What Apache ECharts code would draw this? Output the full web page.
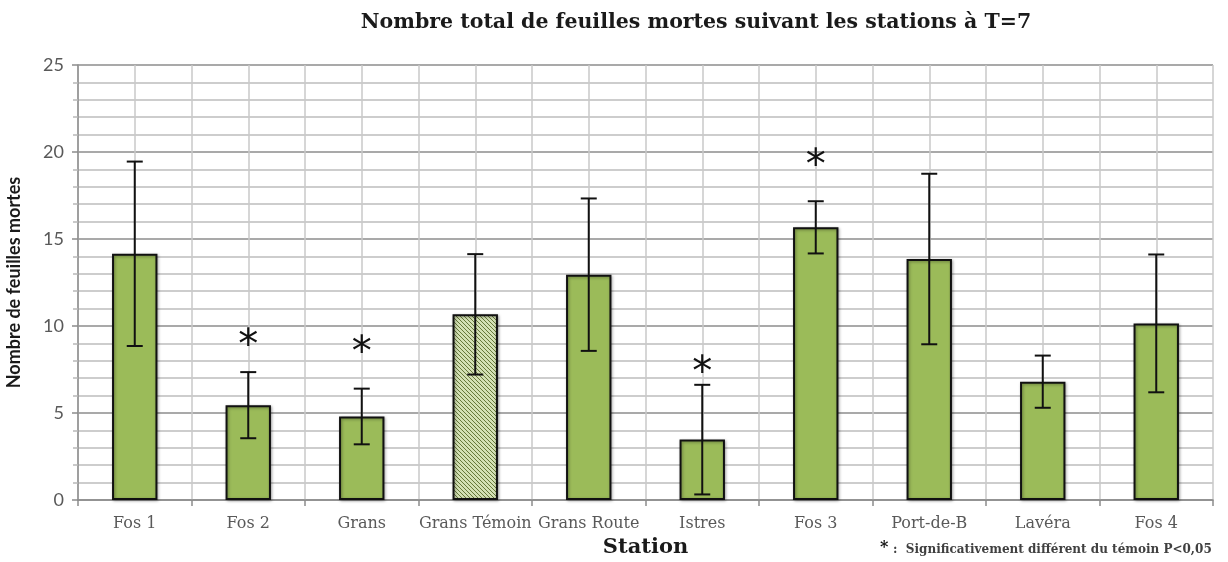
<!DOCTYPE html>
<html><head><meta charset="utf-8">
<script src="https://cdn.jsdelivr.net/npm/echarts@6/dist/echarts.min.js"></script>
<style>html,body{margin:0;padding:0;background:#fff}#c{width:1228px;height:562px}</style>
</head><body><div id="c"></div>
<script>
var categories = ['Fos 1','Fos 2','Grans','Grans Témoin','Grans Route','Istres','Fos 3','Port-de-B','Lavéra','Fos 4'];
var means = [14.15, 5.45, 4.8, 10.67, 12.95, 3.47, 15.67, 13.85, 6.8, 10.15];
var errors = [5.3, 1.9, 1.6, 3.46, 4.38, 3.15, 1.5, 4.9, 1.5, 3.96];
var starLevels = [null, 9.3, 8.9, null, null, 7.7, 19.6, null, null, null];
var yTicks = [0, 5, 10, 15, 20, 25];
var controlIndex = 3;

var pc = document.createElement('canvas');
pc.width = 4; pc.height = 4;
var g = pc.getContext('2d');
g.fillStyle = '#d3e0b4'; g.fillRect(0,0,4,4);
g.strokeStyle = '#66783a'; g.lineWidth = 1;
g.beginPath();
g.moveTo(-1,-1); g.lineTo(5,5);
g.moveTo(-1,3); g.lineTo(1,5);
g.moveTo(3,-1); g.lineTo(5,1);
g.stroke();

var barData = means.map(function(v,i){
  var o = {value: v};
  if (i === controlIndex) o.itemStyle = {color: {image: pc, repeat: 'repeat'}};
  return o;
});
var errData = means.map(function(v,i){ return [i, v - errors[i], v + errors[i]]; });
var starData = [];
starLevels.forEach(function(s,i){ if (s !== null) starData.push([i, s]); });

var chart = echarts.init(document.getElementById('c'), null, {renderer:'canvas'});
chart.setOption({
  animation: false,
  title: {
    text: 'Nombre total de feuilles mortes suivant les stations à T=7',
    left: 691, top: 7, textAlign: 'center',
    textStyle: {fontFamily: 'DejaVu Serif', fontWeight: 'bold', fontSize: 20.5, color: '#1a1a1a'}
  },
  grid: {left: 78, right: 15, top: 65, bottom: 62, outerBoundsMode: 'none', containLabel: false},
  xAxis: [{
    type: 'category', data: categories,
    axisLine: {show: true, lineStyle: {color: '#8c8c8c', width: 1.5}},
    axisTick: {show: true, length: 6, lineStyle: {color: '#8c8c8c', width: 1.5}},
    axisLabel: {interval: 0, fontFamily: 'DejaVu Serif', fontSize: 16, color: '#595959', margin: 16},
    splitLine: {show: false},
    name: 'Station', nameLocation: 'middle', nameGap: 36,
    nameTextStyle: {fontFamily: 'DejaVu Serif', fontWeight: 'bold', fontSize: 21, color: '#1a1a1a'}
  }, {
    type: 'value', min: 0, max: 10, interval: 0.5, position: 'bottom',
    axisLine: {show: false}, axisTick: {show: false}, axisLabel: {show: false},
    splitLine: {show: true, lineStyle: {color: '#c8c8c8', width: 1.5}}
  }],
  yAxis: {
    type: 'value', min: 0, max: 25, interval: 5,
    axisLine: {show: true, lineStyle: {color: '#8c8c8c', width: 1.5}},
    axisTick: {show: true, length: 6, lineStyle: {color: '#8c8c8c', width: 1.5}},
    minorTick: {show: true, splitNumber: 5, length: 5, lineStyle: {color: '#b8b8b8', width: 1.5}},
    axisLabel: {fontFamily: 'Lato', fontSize: 18, color: '#595959', margin: 14,
      formatter: function(v){ return yTicks.indexOf(v) >= 0 ? String(v) : ''; }},
    splitLine: {show: true, lineStyle: {color: '#8c8c8c', width: 1.5}},
    minorSplitLine: {show: true, lineStyle: {color: '#bdbdbd', width: 1.5}},
    name: 'Nombre de feuilles mortes', nameLocation: 'middle', nameGap: 55, nameRotate: 90,
    nameTextStyle: {fontFamily: 'Lato', fontWeight: 'bold', fontSize: 18, color: '#1a1a1a'}
  },
  series: [{
    type: 'bar', data: barData, barWidth: '40%', xAxisIndex: 0, z: 3,
    itemStyle: {color: '#9bbb59', borderColor: '#111', borderWidth: 2,
      shadowColor: 'rgba(0,0,0,0.35)', shadowBlur: 3, shadowOffsetX: 1, shadowOffsetY: 1}
  }, {
    type: 'custom', xAxisIndex: 0, z: 5, data: errData,
    renderItem: function(params, api){
      var lo = api.coord([api.value(0), api.value(1)]);
      var hi = api.coord([api.value(0), api.value(2)]);
      var hw = 8;
      var st = {stroke: '#111', lineWidth: 2};
      return {type: 'group', children: [
        {type: 'line', shape: {x1: hi[0], y1: hi[1], x2: lo[0], y2: lo[1]}, style: st},
        {type: 'line', shape: {x1: hi[0]-hw, y1: hi[1], x2: hi[0]+hw, y2: hi[1]}, style: st},
        {type: 'line', shape: {x1: lo[0]-hw, y1: lo[1], x2: lo[0]+hw, y2: lo[1]}, style: st}
      ]};
    }
  }, {
    type: 'custom', xAxisIndex: 0, z: 6, data: starData,
    renderItem: function(params, api){
      var p = api.coord([api.value(0), api.value(1)]);
      return {type: 'text', x: p[0], y: p[1] + 9, style: {text: '*', fontFamily: 'DejaVu Sans', fontSize: 40,
        fill: '#111', align: 'center', verticalAlign: 'middle'}};
    }
  }],
  graphic: [{
    type: 'text', left: 880, top: 540,
    style: {text: '*', fontFamily: 'DejaVu Serif', fontWeight: 'bold', fontSize: 16, fill: '#111'}
  }, {
    type: 'text', left: 893, top: 544,
    style: {text: ':  Significativement différent du témoin P<0,05', fontFamily: 'DejaVu Serif', fontWeight: 'bold', fontSize: 12, fill: '#404040'}
  }]
});
</script></body></html>
